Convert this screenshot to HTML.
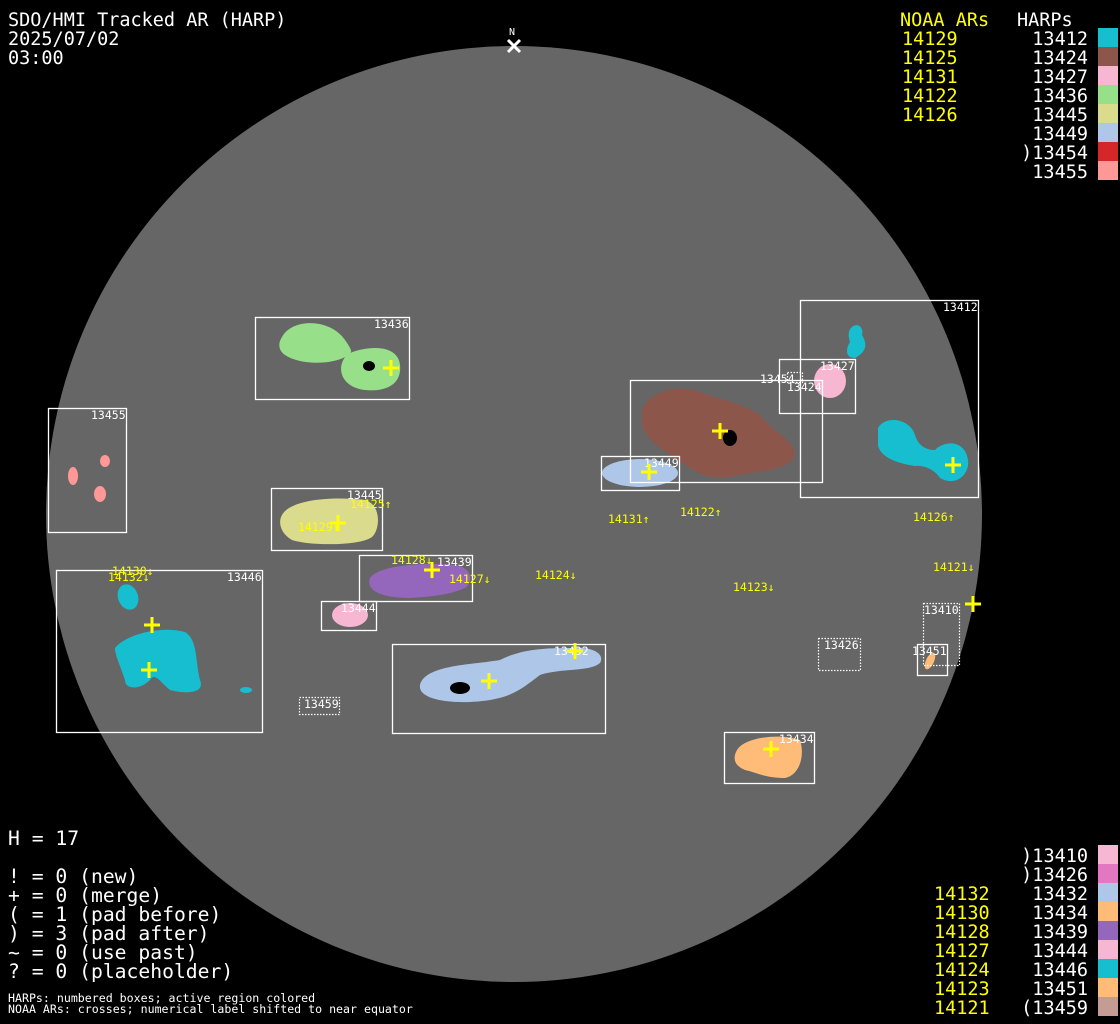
<!DOCTYPE html>
<html><head><meta charset="utf-8"><style>
html,body{margin:0;padding:0;background:#000;}
svg{display:block}
text{font-family:"DejaVu Sans Mono","Liberation Mono",monospace;}
.t{fill:#fff;font-size:18.5px}
.tb{fill:#fff;font-size:19.7px}
.y{fill:#ffff00;font-size:18.5px}
.s{fill:#fff;font-size:11.5px}
.sy{fill:#ffff00;font-size:11.5px}
.b{fill:none;stroke:#fff;stroke-width:1.3}
.d{fill:none;stroke:#fff;stroke-width:1.2;stroke-dasharray:1.5 1.5}
.c{stroke:#ffff00;stroke-width:3;fill:none}
</style></head><body>
<svg width="1120" height="1024" viewBox="0 0 1120 1024" xmlns="http://www.w3.org/2000/svg">
<rect width="1120" height="1024" fill="#000"/>
<circle cx="514" cy="514" r="468" fill="#666"/>
<text x="509" y="35" style="fill:#fff;font-size:10px">N</text>
<path d="M508 40 L520 52 M520 40 L508 52" stroke="#fff" stroke-width="3"/>

<path d="M282 337 C292 318 330 318 345 340 C352 350 352 352 350 353 C370 345 398 345 400 365 C402 385 385 392 365 390 C345 388 335 372 345 357 C330 365 300 365 285 355 C278 350 278 343 282 337Z" fill="#98df8a"/>
<ellipse cx="369" cy="366" rx="6" ry="5" fill="#000"/>
<path d="M282 515 C290 500 330 496 365 500 C382 505 380 530 372 537 C360 546 310 546 292 540 C280 533 278 522 282 515Z" fill="#dbdb8d"/>
<path d="M370 578 C378 566 420 562 455 565 C470 567 475 580 465 588 C450 594 440 596 410 598 C385 598 365 592 370 578Z" fill="#9467bd"/>
<ellipse cx="350" cy="615" rx="18" ry="12" fill="#f7b6d2"/>
<ellipse cx="128" cy="597" rx="10" ry="13" transform="rotate(-20 128 597)" fill="#17becf"/>
<path d="M115 648 C125 635 160 625 185 632 C198 640 195 660 200 680 C205 692 190 695 170 690 C160 682 155 672 150 680 C140 690 125 690 125 680 C120 665 115 655 115 648Z" fill="#17becf"/>
<ellipse cx="246" cy="690" rx="6" ry="3" fill="#17becf"/>
<path d="M420 685 C425 665 470 665 500 660 C520 650 540 648 570 648 C595 646 605 655 600 663 C590 672 560 668 540 675 C520 690 510 700 470 702 C440 703 418 697 420 685Z" fill="#aec7e8"/>
<ellipse cx="460" cy="688" rx="10" ry="6" fill="#000"/>
<path d="M737 750 C745 737 780 733 800 740 C805 755 800 775 785 778 C765 778 755 772 745 770 C733 765 733 757 737 750Z" fill="#ffbb78"/>
<ellipse cx="930" cy="661" rx="4" ry="9" transform="rotate(25 930 661)" fill="#ffbb78"/>
<path d="M642 410 C650 390 680 384 700 392 C720 400 740 402 760 415 C770 430 795 440 795 455 C790 468 770 470 740 475 C720 480 705 478 690 468 C670 455 645 440 642 425Z" fill="#8c564b"/>
<ellipse cx="730" cy="438" rx="7" ry="8" fill="#000"/>
<ellipse cx="640" cy="473" rx="38" ry="14" fill="#aec7e8"/>
<ellipse cx="830" cy="381" rx="16" ry="17" fill="#f7b6d2"/>
<path d="M852 327 C858 322 864 328 862 335 C868 345 866 352 855 358 C846 358 845 350 850 342 C848 336 848 330 852 327Z" fill="#17becf"/>
<path d="M878 428 C885 415 910 418 915 435 C918 445 925 450 935 450 C945 440 965 440 968 460 C970 475 955 487 940 478 C935 470 925 465 915 466 C900 464 880 458 878 445Z" fill="#17becf"/>
<ellipse cx="73" cy="476" rx="5" ry="9" fill="#ff9896"/>
<ellipse cx="105" cy="461" rx="5" ry="6" fill="#ff9896"/>
<ellipse cx="100" cy="494" rx="6" ry="8" fill="#ff9896"/>

<rect class="b" x="255.5" y="317.5" width="154" height="82"/>
<rect class="b" x="800.5" y="300.5" width="178" height="197"/>
<rect class="b" x="630.5" y="380.5" width="192" height="102"/>
<rect class="b" x="779.5" y="359.5" width="76" height="54"/>
<rect class="b" x="601.5" y="456.5" width="78" height="34"/>
<rect class="b" x="48.5" y="408.5" width="78" height="124"/>
<rect class="b" x="271.5" y="488.5" width="111" height="62"/>
<rect class="b" x="359.5" y="555.5" width="113" height="46"/>
<rect class="b" x="321.5" y="601.5" width="55" height="29"/>
<rect class="b" x="56.5" y="570.5" width="206" height="162"/>
<rect class="b" x="392.5" y="644.5" width="213" height="89"/>
<rect class="b" x="724.5" y="732.5" width="90" height="51"/>
<rect class="b" x="917.5" y="644.5" width="30" height="31"/>
<rect class="d" x="923.5" y="603.5" width="36" height="62"/>
<rect class="d" x="818.5" y="638.5" width="42" height="32"/>
<rect class="d" x="299.5" y="697.5" width="40" height="17"/>
<rect class="d" x="787.5" y="372.5" width="15" height="10"/>

<text class="s" x="374" y="328">13436</text>
<text class="s" x="943" y="311">13412</text>
<text class="s" x="820" y="370">13427</text>
<text class="s" x="760" y="383">13454</text>
<text class="s" x="787" y="391">13424</text>
<text class="s" x="644" y="467">13449</text>
<text class="s" x="91" y="419">13455</text>
<text class="s" x="347" y="499">13445</text>
<text class="s" x="437" y="566">13439</text>
<text class="s" x="341" y="612">13444</text>
<text class="s" x="227" y="581">13446</text>
<text class="s" x="554" y="655">13432</text>
<text class="s" x="779" y="743">13434</text>
<text class="s" x="824" y="649">13426</text>
<text class="s" x="924" y="614">13410</text>
<text class="s" x="912" y="655">13451</text>
<text class="s" x="304" y="708">13459</text>

<text class="sy" x="350" y="508">14125↑</text>
<text class="sy" x="298" y="531">14129↑</text>
<text class="sy" x="391" y="564">14128↓</text>
<text class="sy" x="449" y="583">14127↓</text>
<text class="sy" x="535" y="579">14124↓</text>
<text class="sy" x="608" y="523">14131↑</text>
<text class="sy" x="680" y="516">14122↑</text>
<text class="sy" x="733" y="591">14123↓</text>
<text class="sy" x="913" y="521">14126↑</text>
<text class="sy" x="933" y="571">14121↓</text>
<text class="sy" x="112" y="575">14130↓</text>
<text class="sy" x="108" y="581">14132↓</text>

<g class="c">
<path d="M383 368h16M391 360v16"/>
<path d="M712 431h16M720 423v16"/>
<path d="M641 472h16M649 464v16"/>
<path d="M945 465h16M953 457v16"/>
<path d="M330 523h16M338 515v16"/>
<path d="M424 570h16M432 562v16"/>
<path d="M144 625h16M152 617v16"/>
<path d="M141 670h16M149 662v16"/>
<path d="M481 681h16M489 673v16"/>
<path d="M567 651h16M575 643v16"/>
<path d="M763 749h16M771 741v16"/>
<path d="M965 604h16M973 596v16"/>
</g>

<text class="t" x="8" y="26">SDO/HMI Tracked AR (HARP)</text>
<text class="t" x="8" y="45">2025/07/02</text>
<text class="t" x="8" y="64">03:00</text>

<text class="y" x="900" y="26">NOAA ARs</text>
<text class="t" x="1017" y="26">HARPs</text>
<g class="y">
<text x="902" y="45">14129</text><text x="902" y="64">14125</text><text x="902" y="83">14131</text><text x="902" y="102">14122</text><text x="902" y="121">14126</text>
</g>
<g class="t" text-anchor="end">
<text x="1088" y="45">13412</text><text x="1088" y="64">13424</text><text x="1088" y="83">13427</text><text x="1088" y="102">13436</text><text x="1088" y="121">13445</text><text x="1088" y="140">13449</text><text x="1088" y="159">)13454</text><text x="1088" y="178">13455</text>
</g>
<rect x="1098" y="28" width="20" height="19" fill="#17becf"/>
<rect x="1098" y="47" width="20" height="19" fill="#8c564b"/>
<rect x="1098" y="66" width="20" height="19" fill="#f7b6d2"/>
<rect x="1098" y="85" width="20" height="19" fill="#98df8a"/>
<rect x="1098" y="104" width="20" height="19" fill="#dbdb8d"/>
<rect x="1098" y="123" width="20" height="19" fill="#aec7e8"/>
<rect x="1098" y="142" width="20" height="19" fill="#d62728"/>
<rect x="1098" y="161" width="20" height="19" fill="#ff9896"/>

<text class="tb" x="8" y="845">H = 17</text>
<text class="tb" x="8" y="883">! = 0 (new)</text>
<text class="tb" x="8" y="902">+ = 0 (merge)</text>
<text class="tb" x="8" y="921">( = 1 (pad before)</text>
<text class="tb" x="8" y="940">) = 3 (pad after)</text>
<text class="tb" x="8" y="959">~ = 0 (use past)</text>
<text class="tb" x="8" y="978">? = 0 (placeholder)</text>
<text style="fill:#fff;font-size:11.6px" x="8" y="1002">HARPs: numbered boxes; active region colored</text>
<text style="fill:#fff;font-size:11.6px" x="8" y="1013">NOAA ARs: crosses; numerical label shifted to near equator</text>

<g class="t" text-anchor="end">
<text x="1088" y="862">)13410</text><text x="1088" y="881">)13426</text><text x="1088" y="900">13432</text><text x="1088" y="919">13434</text><text x="1088" y="938">13439</text><text x="1088" y="957">13444</text><text x="1088" y="976">13446</text><text x="1088" y="995">13451</text><text x="1088" y="1014">(13459</text>
</g>
<g class="y">
<text x="934" y="900">14132</text><text x="934" y="919">14130</text><text x="934" y="938">14128</text><text x="934" y="957">14127</text><text x="934" y="976">14124</text><text x="934" y="995">14123</text><text x="934" y="1014">14121</text>
</g>
<rect x="1098" y="845" width="20" height="19" fill="#f7b6d2"/>
<rect x="1098" y="864" width="20" height="19" fill="#e377c2"/>
<rect x="1098" y="883" width="20" height="19" fill="#aec7e8"/>
<rect x="1098" y="902" width="20" height="19" fill="#ffbb78"/>
<rect x="1098" y="921" width="20" height="19" fill="#9467bd"/>
<rect x="1098" y="940" width="20" height="19" fill="#f7b6d2"/>
<rect x="1098" y="959" width="20" height="19" fill="#17becf"/>
<rect x="1098" y="978" width="20" height="19" fill="#ffbb78"/>
<rect x="1098" y="997" width="20" height="19" fill="#c49c94"/>
</svg>
</body></html>
